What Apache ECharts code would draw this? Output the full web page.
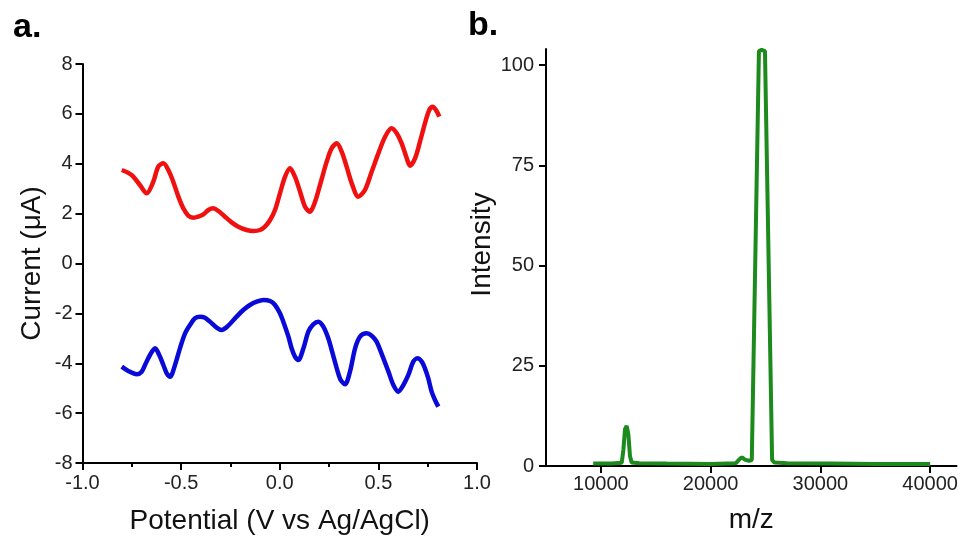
<!DOCTYPE html>
<html>
<head>
<meta charset="utf-8">
<script src="https://cdn.jsdelivr.net/npm/echarts@6/dist/echarts.min.js"></script>
<style>html,body{margin:0;padding:0;background:#fff}#c{width:961px;height:540px}</style>
</head>
<body>
<div id="c"></div>
<script>
// Panel a: differential pulse voltammetry
const redPotential = [-0.801,-0.751,-0.709,-0.675,-0.641,-0.616,-0.590,-0.565,-0.540,-0.514,-0.489,-0.464,-0.438,-0.413,-0.387,-0.362,-0.337,-0.311,-0.278,-0.244,-0.210,-0.168,-0.134,-0.100,-0.075,-0.049,-0.024,0.001,0.027,0.052,0.077,0.103,0.128,0.153,0.179,0.204,0.238,0.263,0.289,0.314,0.339,0.365,0.398,0.432,0.466,0.500,0.534,0.567,0.593,0.618,0.644,0.660,0.686,0.711,0.736,0.758,0.775,0.792,0.809];
const redCurrent = [3.749,3.549,3.148,2.813,3.281,3.883,4.016,3.749,3.281,2.680,2.212,1.918,1.838,1.878,1.971,2.145,2.212,2.105,1.878,1.651,1.477,1.343,1.303,1.343,1.477,1.744,2.145,2.813,3.482,3.816,3.482,2.880,2.279,2.078,2.479,3.148,4.083,4.618,4.818,4.484,3.883,3.214,2.680,2.947,3.682,4.417,5.085,5.420,5.219,4.818,4.217,3.923,4.217,4.885,5.620,6.155,6.288,6.155,5.887];
const bluePotential = [-0.801,-0.768,-0.725,-0.700,-0.683,-0.658,-0.632,-0.611,-0.590,-0.573,-0.556,-0.531,-0.506,-0.480,-0.455,-0.430,-0.404,-0.379,-0.354,-0.320,-0.295,-0.261,-0.227,-0.185,-0.151,-0.117,-0.083,-0.049,-0.024,0.001,0.018,0.044,0.060,0.077,0.094,0.120,0.145,0.170,0.196,0.221,0.246,0.268,0.289,0.309,0.331,0.356,0.382,0.407,0.441,0.466,0.491,0.522,0.551,0.576,0.601,0.627,0.652,0.677,0.698,0.720,0.736,0.753,0.770,0.787,0.804];
const blueCurrent = [-4.137,-4.310,-4.444,-4.337,-4.070,-3.669,-3.401,-3.669,-4.070,-4.404,-4.538,-4.070,-3.401,-2.800,-2.466,-2.199,-2.132,-2.172,-2.332,-2.573,-2.666,-2.493,-2.199,-1.864,-1.664,-1.530,-1.464,-1.504,-1.664,-1.998,-2.332,-2.934,-3.401,-3.736,-3.869,-3.401,-2.733,-2.439,-2.332,-2.533,-3.000,-3.602,-4.203,-4.671,-4.845,-4.337,-3.401,-2.934,-2.800,-2.894,-3.134,-3.736,-4.337,-4.872,-5.139,-4.872,-4.471,-3.936,-3.802,-3.936,-4.203,-4.604,-5.139,-5.473,-5.740];

// Panel b: mass spectrum
const mz = [9300,11000,11900,12050,12200,12350,12500,12650,12800,13500,16000,20000,22300,22600,22850,23100,23500,23750,24400,24650,24950,25600,25800,27000,31000,35000,40000];
const intensity = [0.6,0.6,0.8,4,9.2,10,8,2.5,0.9,0.7,0.6,0.5,0.7,1.6,2.2,1.6,1.3,1.5,103.5,103.8,103.5,1.5,0.9,0.7,0.6,0.5,0.5];
const mzTicks = [10000,20000,30000,40000];
const intensityTicks = [0,25,50,75,100];

const zip = (a, b) => a.map((v, i) => [v, b[i]]);
const FONT = '"Liberation Sans", Arial, sans-serif';
const axisLine = {show: true, onZero: false, lineStyle: {color: '#000', width: 2}};
const axisTick = {show: true, length: 7, lineStyle: {color: '#000', width: 2}};
const lbl = (size, margin) => ({color: '#222', fontSize: size, fontFamily: FONT, margin});
const nameStyle = {color: '#111', fontSize: 28, fontFamily: FONT};

const chart = echarts.init(document.getElementById('c'), null, {renderer: 'canvas'});
chart.setOption({
  backgroundColor: '#fff',
  animation: false,
  title: [
    {text: 'a.', left: 8, top: 6, textStyle: {fontSize: 34, fontWeight: 'bold', color: '#000', fontFamily: FONT}},
    {text: 'b.', left: 463, top: 4, textStyle: {fontSize: 34, fontWeight: 'bold', color: '#000', fontFamily: FONT}}
  ],
  grid: [
    {left: 82.5, top: 64, width: 394.5, height: 399},
    {left: 546, top: 49, width: 410.5, height: 417}
  ],
  xAxis: [
    {
      gridIndex: 0, type: 'value', min: -1, max: 1, interval: 0.5,
      name: 'Potential (V vs Ag/AgCl)', nameLocation: 'middle', nameGap: 44, nameTextStyle: nameStyle,
      axisLine, axisTick,
      minorTick: {show: true, splitNumber: 2, length: 4, lineStyle: {color: '#000', width: 2}},
      axisLabel: Object.assign(lbl(20, 10), {formatter: v => v.toFixed(1)}),
      splitLine: {show: false}
    },
    {
      gridIndex: 1, type: 'value', min: 5000, max: 42400,
      name: 'm/z', nameLocation: 'middle', nameGap: 40, nameTextStyle: nameStyle,
      axisLine,
      axisTick: Object.assign({}, axisTick, {customValues: mzTicks}),
      axisLabel: Object.assign(lbl(20, 8), {customValues: mzTicks, formatter: v => String(v)}),
      splitLine: {show: false}
    }
  ],
  yAxis: [
    {
      gridIndex: 0, type: 'value', min: -8, max: 8, interval: 2,
      name: 'Current (μA)', nameLocation: 'middle', nameGap: 36, nameTextStyle: nameStyle,
      axisLine, axisTick,
      axisLabel: lbl(20, 10),
      splitLine: {show: false}
    },
    {
      gridIndex: 1, type: 'value', min: 0, max: 104,
      name: 'Intensity', nameLocation: 'middle', nameGap: 50,
      nameTextStyle: Object.assign({}, nameStyle, {padding: [0, 0, 0, 26]}),
      axisLine,
      axisTick: Object.assign({}, axisTick, {customValues: intensityTicks}),
      axisLabel: Object.assign(lbl(20, 12), {customValues: intensityTicks}),
      splitLine: {show: false}
    }
  ],
  series: [
    {type: 'line', xAxisIndex: 0, yAxisIndex: 0, data: zip(redPotential, redCurrent), smooth: 0.3, showSymbol: false,
     lineStyle: {color: '#f01010', width: 4.5}},
    {type: 'line', xAxisIndex: 0, yAxisIndex: 0, data: zip(bluePotential, blueCurrent), smooth: 0.3, showSymbol: false,
     lineStyle: {color: '#0a0ad8', width: 4.5}},
    {type: 'line', xAxisIndex: 1, yAxisIndex: 1, data: zip(mz, intensity), smooth: false, showSymbol: false,
     lineStyle: {color: '#1c8a1c', width: 4}}
  ]
});
</script>
</body>
</html>
